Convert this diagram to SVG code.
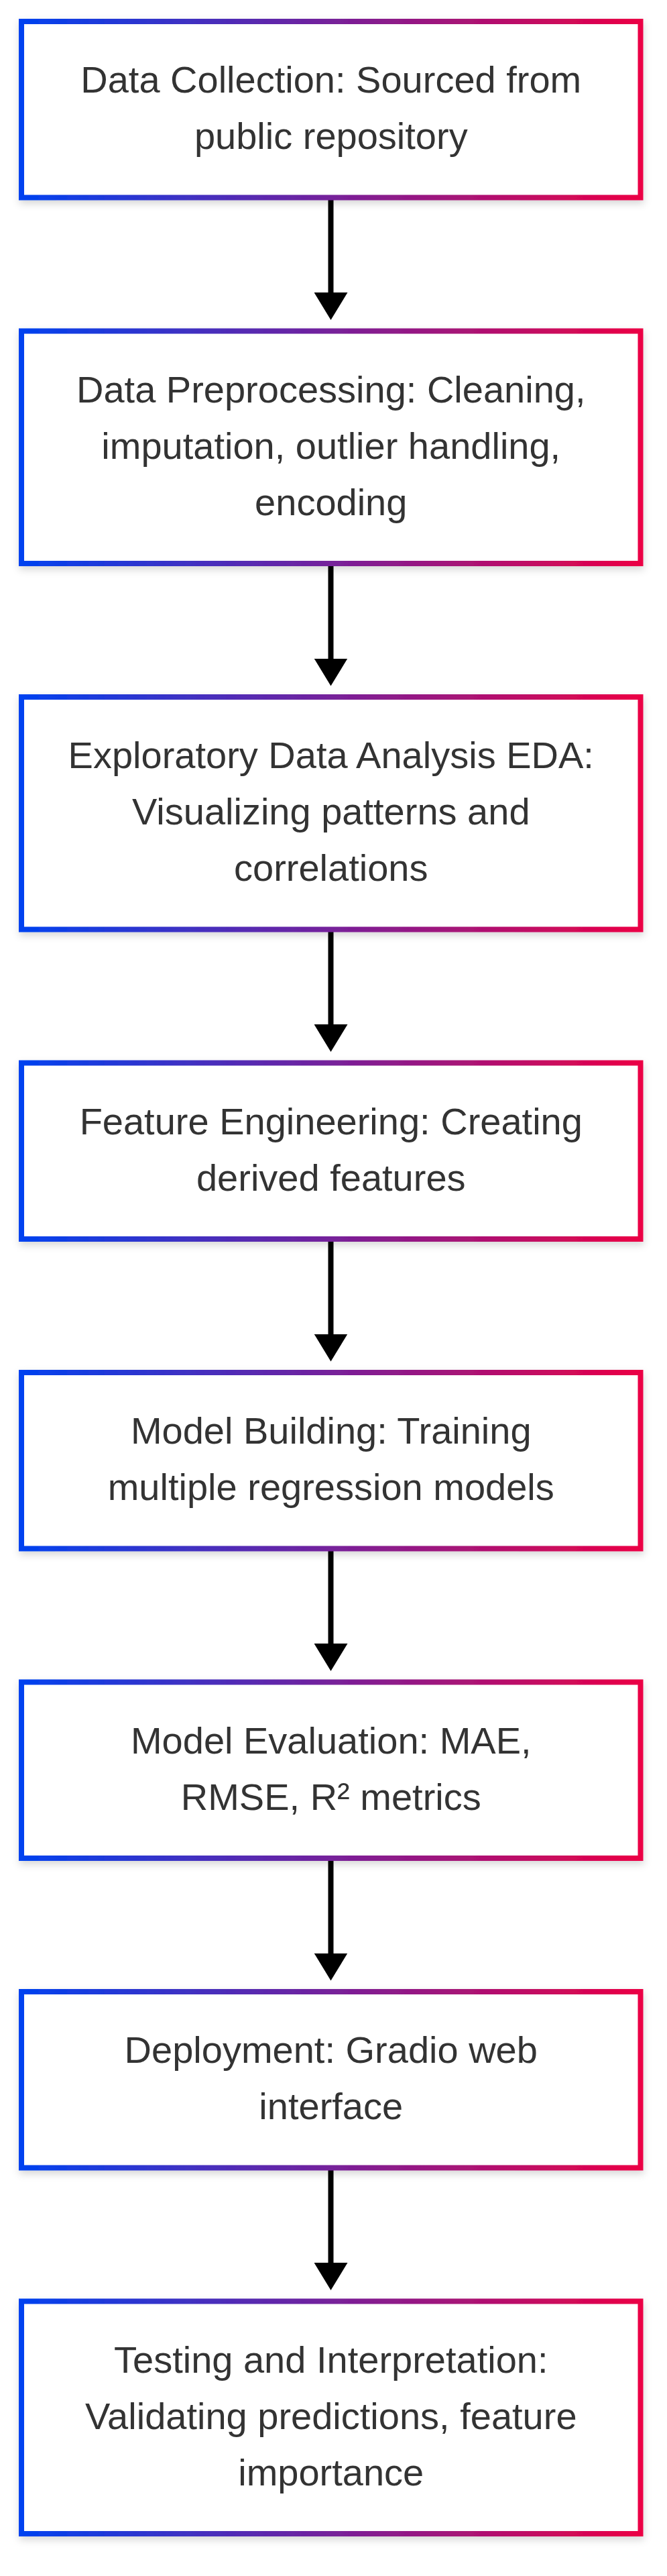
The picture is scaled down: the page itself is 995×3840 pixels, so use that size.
<svg xmlns="http://www.w3.org/2000/svg" width="995" height="3840" viewBox="0 0 995 3840">
<style>
.box{fill:#ffffff;stroke:url(#grad);stroke-width:8;filter:url(#shadow)}
.lbl{font-family:"Liberation Sans",Arial,Helvetica,sans-serif;font-size:56px;fill:#333333;text-anchor:middle}
.edge{stroke:#000000;stroke-width:8;fill:none;marker-end:url(#arrow)}
</style>
<defs>
<linearGradient id="grad" x1="0" y1="0" x2="1" y2="0">
<stop offset="0" stop-color="#0042F0"/>
<stop offset="1" stop-color="#EB0045"/>
</linearGradient>
<filter id="shadow" x="-10%" y="-20%" width="120%" height="150%">
<feDropShadow dx="1" dy="5" stdDeviation="6" flood-color="#000000" flood-opacity="0.16"/>
</filter>
<marker id="arrow" viewBox="0 0 41 50" refX="2" refY="25" markerWidth="41" markerHeight="50" markerUnits="userSpaceOnUse" orient="auto">
<path d="M0,0 L41,25 L0,50 Z" fill="#000000"/>
</marker>
</defs>
<rect x="0" y="0" width="995" height="3840" fill="#ffffff"/>
<g id="connectors">
<path class="edge" d="M493.5,294.5 L493.5,438"/>
<path class="edge" d="M493.5,840 L493.5,983.5"/>
<path class="edge" d="M493.5,1385.5 L493.5,1529"/>
<path class="edge" d="M493.5,1847 L493.5,1990.5"/>
<path class="edge" d="M493.5,2308.5 L493.5,2452"/>
<path class="edge" d="M493.5,2770 L493.5,2913.5"/>
<path class="edge" d="M493.5,3231.5 L493.5,3375"/>
</g>
<g id="node1">
<rect class="box" x="32" y="32" width="923.5" height="262.5"/>
<text class="lbl" x="493.75" y="138.25">Data Collection: Sourced from</text>
<text class="lbl" x="493.75" y="222.25">public repository</text>
</g>
<g id="node2">
<rect class="box" x="32" y="493.5" width="923.5" height="346.5"/>
<text class="lbl" x="493.75" y="599.75">Data Preprocessing: Cleaning,</text>
<text class="lbl" x="493.75" y="683.75">imputation, outlier handling,</text>
<text class="lbl" x="493.75" y="767.75">encoding</text>
</g>
<g id="node3">
<rect class="box" x="32" y="1039" width="923.5" height="346.5"/>
<text class="lbl" x="493.75" y="1145.25">Exploratory Data Analysis EDA:</text>
<text class="lbl" x="493.75" y="1229.25">Visualizing patterns and</text>
<text class="lbl" x="493.75" y="1313.25">correlations</text>
</g>
<g id="node4">
<rect class="box" x="32" y="1584.5" width="923.5" height="262.5"/>
<text class="lbl" x="493.75" y="1690.75">Feature Engineering: Creating</text>
<text class="lbl" x="493.75" y="1774.75">derived features</text>
</g>
<g id="node5">
<rect class="box" x="32" y="2046" width="923.5" height="262.5"/>
<text class="lbl" x="493.75" y="2152.25">Model Building: Training</text>
<text class="lbl" x="493.75" y="2236.25">multiple regression models</text>
</g>
<g id="node6">
<rect class="box" x="32" y="2507.5" width="923.5" height="262.5"/>
<text class="lbl" x="493.75" y="2613.75">Model Evaluation: MAE,</text>
<text class="lbl" x="493.75" y="2697.75">RMSE, R² metrics</text>
</g>
<g id="node7">
<rect class="box" x="32" y="2969" width="923.5" height="262.5"/>
<text class="lbl" x="493.75" y="3075.25">Deployment: Gradio web</text>
<text class="lbl" x="493.75" y="3159.25">interface</text>
</g>
<g id="node8">
<rect class="box" x="32" y="3430.5" width="923.5" height="346.5"/>
<text class="lbl" x="493.75" y="3536.75">Testing and Interpretation:</text>
<text class="lbl" x="493.75" y="3620.75">Validating predictions, feature</text>
<text class="lbl" x="493.75" y="3704.75">importance</text>
</g>
</svg>
